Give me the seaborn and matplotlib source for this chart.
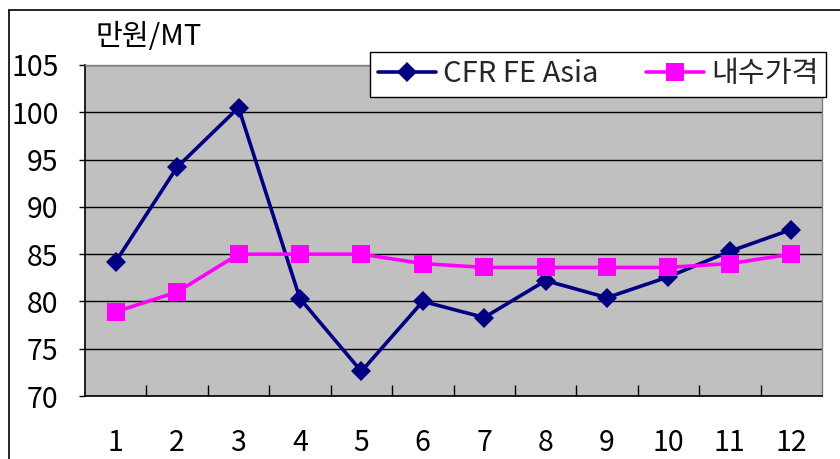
import seaborn as sns
from matplotlib import pyplot as plt
from matplotlib.lines import Line2D
import pandas as pd

months = list(range(1, 13))
cfr_fe_asia = [84.2, 94.2, 100.5, 80.3, 72.6, 80.0, 78.3, 82.2, 80.4, 82.6, 85.3, 87.6]
domestic = [78.9, 81.0, 85.0, 85.0, 85.0, 84.0, 83.6, 83.6, 83.6, 83.6, 84.0, 85.0]
series_names = ['CFR FE Asia', '내수가격']
y_ticks = [70, 75, 80, 85, 90, 95, 100, 105]

df = pd.DataFrame({
    'month': months * 2,
    'price': cfr_fe_asia + domestic,
    'series': [series_names[0]] * 12 + [series_names[1]] * 12,
})

sns.set_theme(style='white')
plt.rcParams['font.family'] = ['Noto Sans CJK KR', 'DejaVu Sans']

fig = plt.figure(figsize=(8.4, 4.59), dpi=100)
ax = fig.add_axes([85 / 840, 1 - 396 / 459, (822 - 85) / 840, (396 - 65) / 459])
ax.set_facecolor('#C0C0C0')

sns.lineplot(data=df, x='month', y='price', hue='series', style='series',
             palette=['#000080', '#FF00FF'], markers=['D', 's'], dashes=False,
             markersize=12, markeredgewidth=0, linewidth=2.6, ax=ax, legend=False)

# diamonds a bit smaller than the squares
ax.lines[0].set_markersize(10.5)
ax.lines[1].set_markersize(13.5)

ax.set_xlim(0.5, 12.5)
ax.set_ylim(70, 105)
ax.set_yticks(y_ticks)
ax.set_xticks(months)
ax.set_xticks([m + 0.5 for m in months[:-1]], minor=True)
ax.grid(axis='y', color='black', linewidth=1)
ax.set_axisbelow(True)
ax.tick_params(axis='x', which='major', length=0, pad=23, labelsize=20.5, labelcolor='black')
ax.tick_params(axis='x', which='minor', length=8, width=1, direction='in', color='black', bottom=True)
ax.tick_params(axis='y', length=4, width=1, direction='out', color='black', left=True, pad=15,
               labelsize=20.5, labelcolor='black')
for side in ['left', 'bottom']:
    ax.spines[side].set_color('black')
    ax.spines[side].set_linewidth(1.2)
for side in ['top', 'right']:
    ax.spines[side].set_color('#808080')
    ax.spines[side].set_linewidth(1)
ax.set_xlabel('')
ax.set_ylabel('')

fig.text(95 / 840, 1 - 37 / 459, '만원/MT', fontsize=21, va='center', ha='left', color='black')

handles = [
    Line2D([], [], color='#000080', marker='D', markersize=10.5, markeredgewidth=0, linewidth=2.6),
    Line2D([], [], color='#FF00FF', marker='s', markersize=13.5, markeredgewidth=0, linewidth=2.6),
]
leg = ax.legend(handles, series_names, ncol=2, loc='upper right',
                bbox_to_anchor=(826 / 840, 1 - 52 / 459), bbox_transform=fig.transFigure,
                fontsize=21, frameon=True, fancybox=False, framealpha=1,
                edgecolor='black', borderaxespad=0, handlelength=2.0,
                columnspacing=1.6, borderpad=0.25, handletextpad=0.25)
leg.get_frame().set_linewidth(1)

# outer chart border
fig.add_artist(Line2D([9 / 840, 9 / 840], [0, 1 - 10 / 459], transform=fig.transFigure,
                      color='black', linewidth=1.2))
fig.add_artist(Line2D([9 / 840, 1], [1 - 10 / 459, 1 - 10 / 459], transform=fig.transFigure,
                      color='black', linewidth=1.2))

plt.savefig('out.png', dpi=100)
